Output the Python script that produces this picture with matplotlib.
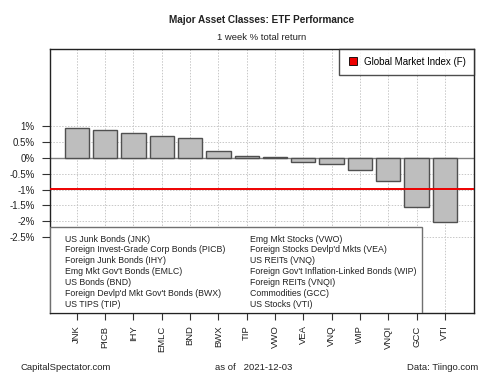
import matplotlib
matplotlib.use("Agg")
import matplotlib.pyplot as plt
from matplotlib.patches import Rectangle
from matplotlib.lines import Line2D

plt.rcParams['font.family'] = ['Liberation Sans', 'DejaVu Sans']

tickers = ["JNK", "PICB", "IHY", "EMLC", "BND", "BWX", "TIP", "VWO", "VEA", "VNQ", "WIP", "VNQI", "GCC", "VTI"]
names = ["US Junk Bonds", "Foreign Invest-Grade Corp Bonds", "Foreign Junk Bonds",
         "Emg Mkt Gov't Bonds", "US Bonds", "Foreign Devlp'd Mkt Gov't Bonds", "US TIPS",
         "Emg Mkt Stocks", "Foreign Stocks Devlp'd Mkts", "US REITs",
         "Foreign Gov't Inflation-Linked Bonds", "Foreign REITs", "Commodities", "US Stocks"]
returns = [0.96, 0.90, 0.79, 0.71, 0.63, 0.21, 0.05, 0.02, -0.13, -0.20, -0.37, -0.74, -1.55, -2.03]
gmi = -0.98
yticks = [-2.5, -2.0, -1.5, -1.0, -0.5, 0.0, 0.5, 1.0]
ytick_labels = ["-2.5%", "-2%", "-1.5%", "-1%", "-0.5%", "0%", "0.5%", "1%"]

W, H = 500, 375
fig = plt.figure(figsize=(5, 3.75), dpi=100)
ax = fig.add_axes([50 / W, 1 - 313 / H, 424 / W, 264 / H])

x = list(range(len(tickers)))
ax.set_xlim(-0.95, 14.03)
ax.set_ylim(-4.92, 3.46)

for xi in x:
    ax.axvline(xi, color='#c8c8c8', lw=0.7, ls=(0, (1.5, 1.5)), zorder=0)
for yt in yticks:
    ax.axhline(yt, color='#c8c8c8', lw=0.7, ls=(0, (1.5, 1.5)), zorder=0)

ax.axhline(0, color='#808080', lw=1.0, zorder=1)
ax.bar(x, returns, width=0.86, color='#bebebe', edgecolor='#505050', linewidth=1.0, zorder=2)
ax.axhline(gmi, color='#ee0000', lw=1.4, zorder=3)

ax.set_yticks(yticks)
ax.set_yticklabels(ytick_labels, fontsize=7, color='#222222')
ax.set_xticks(x)
ax.set_xticklabels(tickers, rotation=90, fontsize=6.8, color='#222222')
ax.tick_params(axis='y', length=6, width=0.8, color='#333333', pad=5)
ax.tick_params(axis='x', length=5, width=0.8, color='#333333', pad=4)
for s in ax.spines.values():
    s.set_color('#222222')
    s.set_linewidth(1.0)

# bottom legend box
box_w = (422 - 50) / 424
box_h = (313 - 227) / 264
ax.add_patch(Rectangle((0, 0), box_w, box_h, transform=ax.transAxes,
                       facecolor='white', edgecolor='#707070', lw=1.0, zorder=5))
labels = [f"{n} ({t})" for n, t in zip(names, tickers)]
row0 = 239
step = (304.3 - 239) / 6
for i, lab in enumerate(labels):
    col = i // 7
    row = i % 7
    xp = (65 if col == 0 else 250) - 50
    yp = row0 + row * step
    ax.text(xp / 424, (313 - yp) / 264, lab, transform=ax.transAxes, fontsize=6.3,
            va='center', ha='left', color='#222222', zorder=6)

# top legend
h = Line2D([], [], marker='s', color='none', markerfacecolor='#ee0000',
           markeredgecolor='black', markersize=5.5, markeredgewidth=0.6)
leg = ax.legend([h], ["Global Market Index (F)"], loc='upper right', fontsize=7,
                frameon=True, fancybox=False, edgecolor='#222222', borderaxespad=0,
                handletextpad=0.6, borderpad=0.8, handlelength=1.2)
leg.get_frame().set_linewidth(1.0)
leg.set_zorder(7)

fig.text(262 / W, 1 - 20 / H, "Major Asset Classes: ETF Performance", ha='center', va='center',
         fontsize=7.2, fontweight='bold', color='#222222')
fig.text(262 / W, 1 - 37 / H, "1 week % total return", ha='center', va='center',
         fontsize=6.8, color='#222222')
fig.text(20.5 / W, 1 - 367 / H, "CapitalSpectator.com", ha='left', va='center', fontsize=6.8, color='#222222')
fig.text(215 / W, 1 - 367 / H, "as of   2021-12-03", ha='left', va='center', fontsize=6.8, color='#222222')
fig.text(478 / W, 1 - 367 / H, "Data: Tiingo.com", ha='right', va='center', fontsize=6.8, color='#222222')

fig.savefig("out.png", dpi=100)
